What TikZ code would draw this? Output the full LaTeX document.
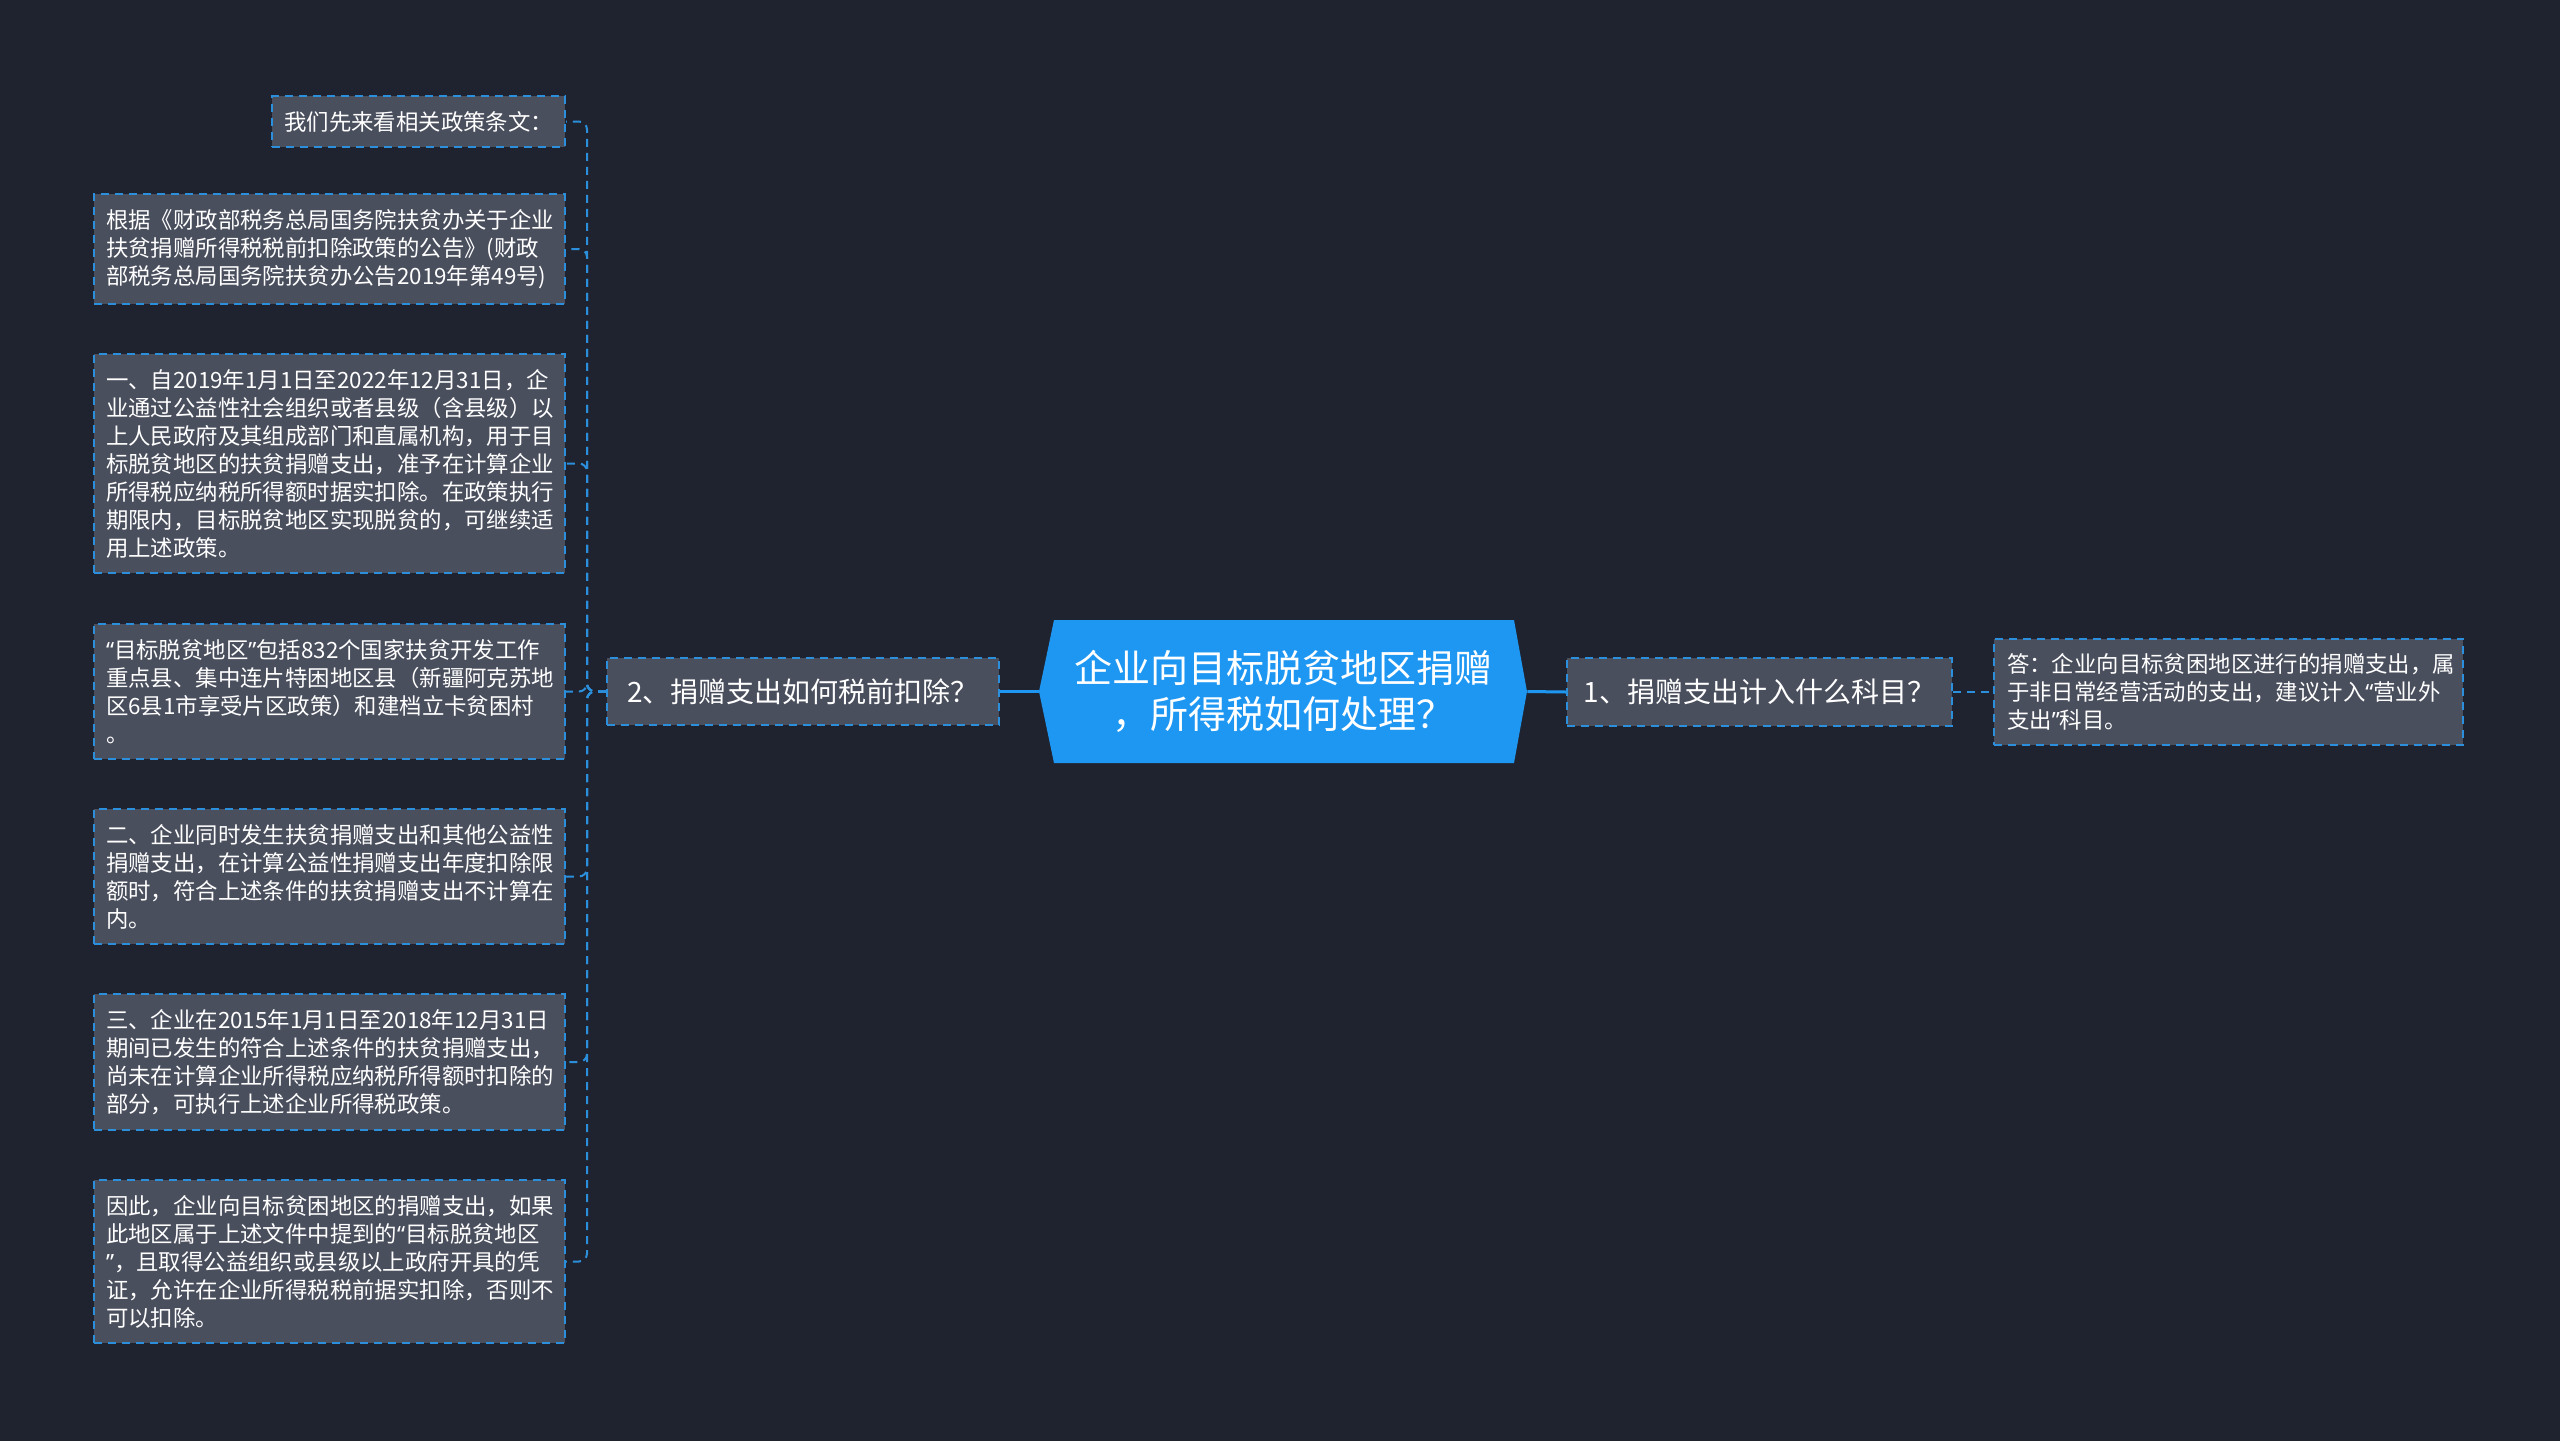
\documentclass[tikz,border=0pt]{standalone}
\usepackage{fontspec}
\setmainfont{Noto Sans CJK SC}
\newfontfamily\latinq{Noto Sans}
\newcommand\qopen{{\latinq “}}
\newcommand\qclose{{\latinq ”}}
\usepackage{tikz}
\usetikzlibrary{positioning}
\definecolor{bgdark}{HTML}{1F2330}
\definecolor{leafgray}{HTML}{4A4F5E}
\definecolor{linkblue}{HTML}{2B8FDC}
\definecolor{rootblue}{HTML}{1E97F3}

\begin{document}
\begin{tikzpicture}[
  x=0.5pt, y=-0.5pt,
  rootbox/.style={rectangle, fill=bgdark, minimum width=244pt, minimum height=71.5pt, inner sep=0pt, align=center, text=white, font=\fontsize{19pt}{23pt}\selectfont,
    path picture={\fill[rootblue] (path picture bounding box.west) -- ([xshift=7.5pt]path picture bounding box.north west) -- ([xshift=-6.5pt]path picture bounding box.north east) -- (path picture bounding box.east) -- ([xshift=-6.5pt]path picture bounding box.south east) -- ([xshift=7.5pt]path picture bounding box.south west) -- cycle;}},
  topic/.style={rectangle, draw=linkblue, line width=1pt, dash pattern=on 4pt off 3pt, fill=leafgray, text=white, font=\fontsize{14pt}{17pt}\selectfont, inner sep=0pt},
  leaf/.style={rectangle, draw=linkblue, line width=1pt, dash pattern=on 4pt off 3pt, fill=leafgray, text=white, font=\fontsize{11.2pt}{14pt}\selectfont, align=left, inner xsep=6pt, inner ysep=7.5pt},
  wideleaf/.style={leaf, text width=223.5pt, anchor=east},
  trunk/.style={draw=rootblue, line width=1.5pt},
  twig/.style={draw=linkblue, line width=1pt, dash pattern=on 4pt off 3pt, rounded corners=4pt},
]
\fill[bgdark] (0,0) rectangle (2560,1441);
\useasboundingbox (0,0) rectangle (2560,1441);

% centre and first level
\node[rootbox] (root) at (1283,691.5) {企业向目标脱贫地区捐赠\\，所得税如何处理？};
\node[topic, minimum width=196pt, minimum height=33.5pt] (q2) at (803,691.5) {2、捐赠支出如何税前扣除？};
\node[topic, minimum width=192.5pt, minimum height=34pt] (q1) at (1759.5,692) {1、捐赠支出计入什么科目？};

% right side
\node[leaf, text width=221.5pt, inner xsep=6.5pt] (ans) at (2228.5,692) {答：企业向目标贫困地区进行的捐赠支出，属\\于非日常经营活动的支出，建议计入\qopen 营业外\\支出\qclose 科目。};

% left side
\node[leaf, anchor=east] (p1) at (566,121.5) {我们先来看相关政策条文：};
\node[wideleaf] (p2) at (566,249) {根据《财政部税务总局国务院扶贫办关于企业\\扶贫捐赠所得税税前扣除政策的公告》(财政\\部税务总局国务院扶贫办公告2019年第49号)};
\node[wideleaf] (p3) at (566,463.5) {一、自2019年1月1日至2022年12月31日，企\\业通过公益性社会组织或者县级（含县级）以\\上人民政府及其组成部门和直属机构，用于目\\标脱贫地区的扶贫捐赠支出，准予在计算企业\\所得税应纳税所得额时据实扣除。在政策执行\\期限内，目标脱贫地区实现脱贫的，可继续适\\用上述政策。};
\node[wideleaf] (p4) at (566,691.5) {\qopen 目标脱贫地区\qclose 包括832个国家扶贫开发工作\\重点县、集中连片特困地区县（新疆阿克苏地\\区6县1市享受片区政策）和建档立卡贫困村\\。};
\node[wideleaf] (p5) at (566,876.5) {二、企业同时发生扶贫捐赠支出和其他公益性\\捐赠支出，在计算公益性捐赠支出年度扣除限\\额时，符合上述条件的扶贫捐赠支出不计算在\\内。};
\node[wideleaf] (p6) at (566,1062) {三、企业在2015年1月1日至2018年12月31日\\期间已发生的符合上述条件的扶贫捐赠支出，\\尚未在计算企业所得税应纳税所得额时扣除的\\部分，可执行上述企业所得税政策。};
\node[wideleaf] (p7) at (566,1261.5) {因此，企业向目标贫困地区的捐赠支出，如果\\此地区属于上述文件中提到的\qopen 目标脱贫地区\\\qclose ，且取得公益组织或县级以上政府开具的凭\\证，允许在企业所得税税前据实扣除，否则不\\可以扣除。};

% connectors
\draw[trunk] (root.west) -- (q2.east);
\draw[trunk] (root.east) -- (q1.west);
\draw[twig] (q1.east) -- (ans.west);
\coordinate (spine) at (587,691.5);
\foreach \p in {p1,p2,p3,p4,p5,p6,p7}
  \draw[twig] (q2.west) -- (spine) |- (\p.east);
\end{tikzpicture}
\end{document}
